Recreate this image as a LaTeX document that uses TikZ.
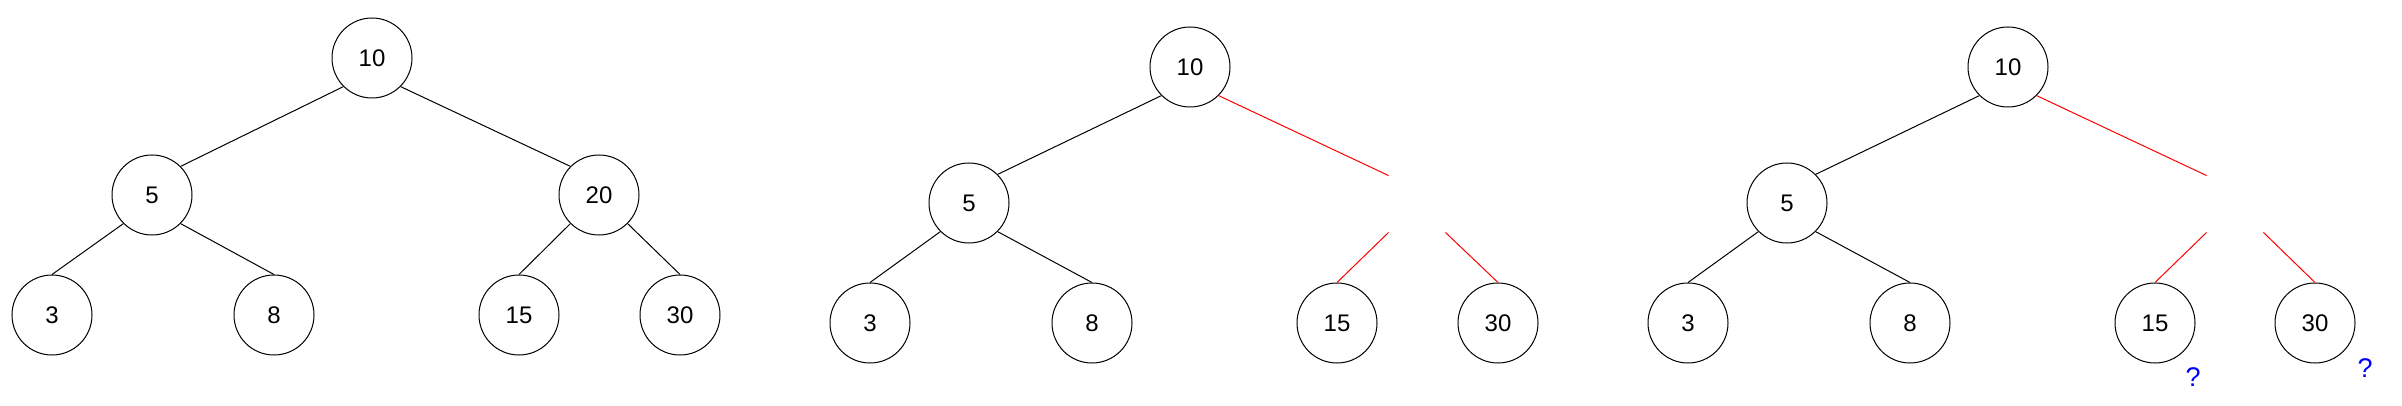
\documentclass[tikz,border=0pt]{standalone}
\usepackage{fontspec}
\setmainfont{Liberation Sans}
\begin{document}
\begin{tikzpicture}[x=1pt,y=-1pt,
  treenode/.style={circle,draw=black,line width=1pt,minimum size=80pt,inner sep=0pt,font=\fontsize{24}{28}\selectfont},
  ghost/.style={circle,minimum size=80pt,inner sep=0pt},
  edge/.style={draw=black,line width=1pt},
  redge/.style={draw=red,line width=1pt},
  qmark/.style={text=blue,inner sep=0pt,font=\fontsize{27}{30}\selectfont}]
\useasboundingbox[fill=white] (0,0) rectangle (2402,406);
% Tree 1
\node[treenode] (a10) at (372,58) {10};
\node[treenode] (a5) at (152,195) {5};
\node[treenode] (a20) at (599,195) {20};
\node[treenode] (a3) at (52,315) {3};
\node[treenode] (a8) at (274,315) {8};
\node[treenode] (a15) at (519,315) {15};
\node[treenode] (a30) at (680,315) {30};
\draw[edge] (a10.south west) -- (a5.north east);
\draw[edge] (a10.south east) -- (a20.north west);
\draw[edge] (a5.south west) -- (a3.north);
\draw[edge] (a5.south east) -- (a8.north);
\draw[edge] (a20.south west) -- (a15.north);
\draw[edge] (a20.south east) -- (a30.north);
% Tree 2
\node[treenode] (b10) at (1190,67) {10};
\node[treenode] (b5) at (969,203) {5};
\node[ghost] (b20) at (1417,204) {};
\node[treenode] (b3) at (870,323) {3};
\node[treenode] (b8) at (1092,323) {8};
\node[treenode] (b15) at (1337,323) {15};
\node[treenode] (b30) at (1498,323) {30};
\draw[edge] (b10.south west) -- (b5.north east);
\draw[redge] (b10.south east) -- (b20.north west);
\draw[edge] (b5.south west) -- (b3.north);
\draw[edge] (b5.south east) -- (b8.north);
\draw[redge] (b20.south west) -- (b15.north);
\draw[redge] (b20.south east) -- (b30.north);
% Tree 3
\node[treenode] (c10) at (2008,67) {10};
\node[treenode] (c5) at (1787,203) {5};
\node[ghost] (c20) at (2235,204) {};
\node[treenode] (c3) at (1688,323) {3};
\node[treenode] (c8) at (1910,323) {8};
\node[treenode] (c15) at (2155,323) {15};
\node[treenode] (c30) at (2315,323) {30};
\draw[edge] (c10.south west) -- (c5.north east);
\draw[redge] (c10.south east) -- (c20.north west);
\draw[edge] (c5.south west) -- (c3.north);
\draw[edge] (c5.south east) -- (c8.north);
\draw[redge] (c20.south west) -- (c15.north);
\draw[redge] (c20.south east) -- (c30.north);
\node[qmark] (q1) at (2193,377) {?};
\node[qmark] (q2) at (2365,368) {?};
\end{tikzpicture}
\end{document}
